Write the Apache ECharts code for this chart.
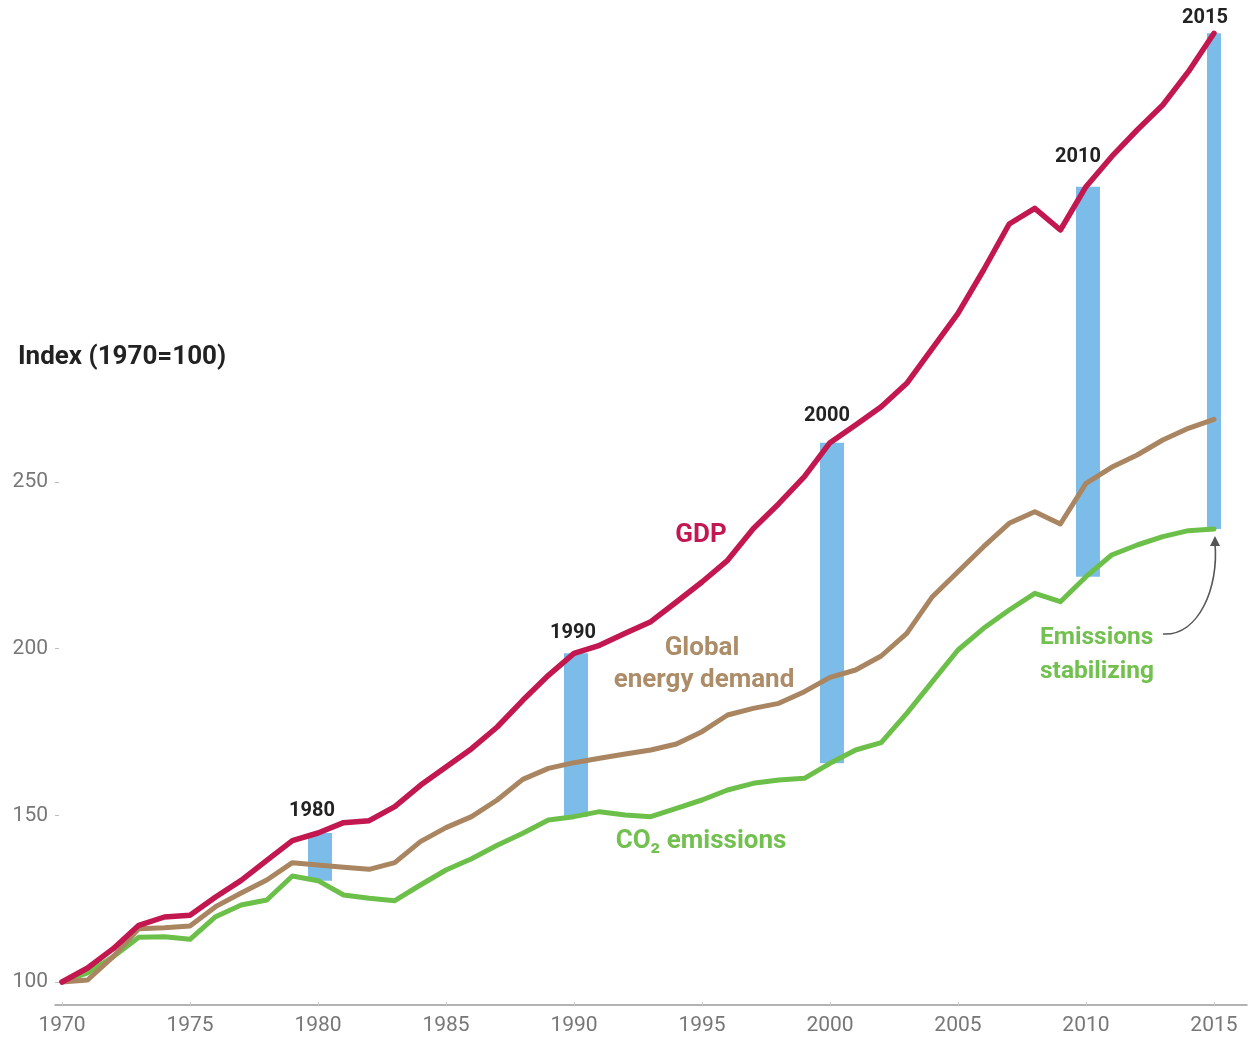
<!DOCTYPE html>
<html>
<head>
<meta charset="utf-8">
<script src="https://cdn.jsdelivr.net/npm/echarts@6/dist/echarts.min.js"></script>
<style>
  html, body { margin: 0; padding: 0; background: #ffffff; }
  #chart { width: 1248px; height: 1039px; }
</style>
</head>
<body>
<div id="chart"></div>
<script>
// Index values, 1970 = 100
const years = [
  1970, 1971, 1972, 1973, 1974, 1975, 1976, 1977, 1978, 1979,
  1980, 1981, 1982, 1983, 1984, 1985, 1986, 1987, 1988, 1989,
  1990, 1991, 1992, 1993, 1994, 1995, 1996, 1997, 1998, 1999,
  2000, 2001, 2002, 2003, 2004, 2005, 2006, 2007, 2008, 2009,
  2010, 2011, 2012, 2013, 2014, 2015
];
const gdp = [
  100, 104.2, 110, 117, 119.5, 120, 125.5, 130.5, 136.5, 142.4,
  144.7, 147.8, 148.4, 152.6, 159, 164.5, 170, 176.5, 184.5, 192,
  198.6, 201, 204.6, 208.1, 214, 220, 226.5, 236, 243.5, 251.6,
  261.8, 267.1, 272.6, 279.6, 290.1, 300.6, 313.6, 327.4, 332.1, 325.6,
  338.6, 347.6, 355.6, 363.1, 373.1, 384.6
];
const energyDemand = [
  100, 100.6, 107.6, 116, 116.3, 116.8, 122.6, 126.7, 130.6, 135.8,
  135.1, 134.4, 133.8, 135.8, 142.1, 146.3, 149.6, 154.6, 160.8, 164.1,
  165.8, 167.1, 168.4, 169.6, 171.4, 175.1, 180.1, 182.1, 183.6, 187.1,
  191.4, 193.6, 197.8, 204.6, 215.6, 223.1, 230.6, 237.6, 241.1, 237.4,
  249.6, 254.4, 258.1, 262.6, 266.1, 268.8
];
const co2 = [
  100, 102.7, 107.6, 113.4, 113.6, 112.8, 119.6, 123.1, 124.6, 131.8,
  130.4, 126.1, 125.1, 124.4, 129.1, 133.6, 137, 141, 144.6, 148.6,
  149.6, 151.1, 150.1, 149.6, 152.1, 154.6, 157.6, 159.6, 160.6, 161.1,
  165.6, 169.6, 171.8, 180.6, 190.1, 199.6, 206.1, 211.6, 216.6, 214.1,
  221.6, 228.1, 231.1, 233.6, 235.4, 235.9
];
// Years where the gap between GDP and emissions is marked
const gapYears = [1980, 1990, 2000, 2010, 2015];
// Axis tick labels
const xTicks = [1970, 1975, 1980, 1985, 1990, 1995, 2000, 2005, 2010, 2015];
const yTicks = [100, 150, 200, 250];

const COLORS = {
  gdp: '#c2174f',
  energy: '#a98661',
  co2: '#6cc04a',
  gap: '#7bbde8'
};
const FONT = 'Roboto, "Noto Sans", sans-serif';

// Pixel nudges for the year captions so they sit clear of the GDP line
const CAPTION_OFFSET = {
  1980: [-6, -22],
  1990: [-1, -20],
  2000: [-3, -27],
  2010: [-8, -30],
  2015: [-9, -15]
};

const pair = (arr) => years.map((y, i) => [y, arr[i]]);
const gapData = gapYears.map((y) => {
  const i = years.indexOf(y);
  return [y, gdp[i], co2[i]];
});
const lastYear = years[years.length - 1];

const chart = echarts.init(document.getElementById('chart'), null, { renderer: 'canvas' });

const lineSeries = (name, data, color, width) => ({
  name,
  type: 'line',
  data: pair(data),
  showSymbol: false,
  symbol: 'none',
  smooth: false,
  z: 3,
  lineStyle: { color, width, join: 'round', cap: 'round' },
  emphasis: { disabled: true }
});

chart.setOption({
  animation: false,
  backgroundColor: '#ffffff',
  grid: { left: 55, right: 1, top: 20, bottom: 34, containLabel: false },
  xAxis: {
    type: 'value',
    min: 1969.727,
    max: 2016.29,
    axisLine: { show: true, lineStyle: { color: '#9a9a9a', width: 1.5 } },
    axisTick: { show: true, inside: true, length: 3, lineStyle: { color: '#d0d0d0' }, customValues: xTicks },
    axisLabel: {
      customValues: xTicks,
      color: '#777777',
      fontSize: 21,
      fontFamily: FONT,
      margin: 10,
      formatter: (v) => String(v)
    },
    splitLine: { show: false }
  },
  yAxis: {
    type: 'value',
    min: 93.1,
    max: 388.6,
    axisLine: { show: false },
    axisTick: { show: true, inside: true, length: 4, lineStyle: { color: '#bdbdbd', width: 1 }, customValues: yTicks },
    axisLabel: {
      customValues: yTicks,
      color: '#777777',
      fontSize: 21,
      fontFamily: FONT,
      margin: 7
    },
    splitLine: { show: false }
  },
  series: [
    {
      name: 'gap',
      type: 'custom',
      z: 1,
      data: gapData,
      renderItem: (params, api) => {
        const year = api.value(0);
        const top = api.coord([year, api.value(1)]);
        const bottom = api.coord([year, api.value(2)]);
        const isLast = year === lastYear;
        const left = isLast ? top[0] - 7 : top[0] - 10;
        const right = isLast ? top[0] + 7 : top[0] + 14;
        const off = CAPTION_OFFSET[year] || [-5, -21];
        return {
          type: 'group',
          children: [
            {
              type: 'rect',
              shape: { x: left, y: top[1], width: right - left, height: bottom[1] - top[1] },
              style: { fill: COLORS.gap }
            },
            {
              type: 'text',
              x: top[0] + off[0],
              y: top[1] + off[1],
              style: {
                text: String(year),
                fill: '#222222',
                font: 'bold 20px ' + FONT,
                textAlign: 'center',
                textVerticalAlign: 'middle'
              }
            }
          ]
        };
      }
    },
    lineSeries('CO₂ emissions', co2, COLORS.co2, 5),
    lineSeries('Global energy demand', energyDemand, COLORS.energy, 5),
    lineSeries('GDP', gdp, COLORS.gdp, 5.5)
  ]
});

// Annotations and the curved pointer to the flattening emissions line
const tip = chart.convertToPixel({ gridIndex: 0 }, [lastYear, co2[co2.length - 1]]);
const tipX = tip[0] + 1;
const tipY = tip[1] + 8;
const startX = 1163, startY = 634;

const label = (text, x, y, color, align, size) => ({
  type: 'text',
  x, y,
  z: 10,
  style: {
    text,
    fill: color,
    font: 'bold ' + (size || 26) + 'px ' + FONT,
    textAlign: align || 'center',
    textVerticalAlign: 'middle'
  }
});

chart.setOption({
  graphic: [
    label('Index (1970=100)', 18, 357, '#222222', 'left'),
    label('GDP', 701, 535, COLORS.gdp),
    label('Global', 702, 648, '#ad8c68'),
    label('energy demand', 704, 680, '#ad8c68'),
    label('CO₂ emissions', 701, 841, '#72c04f'),
    label('Emissions', 1040, 638, '#72c04f', 'left', 24.5),
    label('stabilizing', 1040, 672, '#72c04f', 'left', 24.5),
    {
      type: 'bezierCurve',
      z: 10,
      shape: {
        x1: startX, y1: startY,
        cpx1: startX + 36, cpy1: startY + 2,
        cpx2: tipX + 4, cpy2: tipY + 50,
        x2: tipX, y2: tipY + 6
      },
      style: { stroke: '#555555', lineWidth: 1.6, fill: null }
    },
    {
      type: 'polygon',
      z: 10,
      shape: { points: [[tipX, tipY - 1], [tipX - 5, tipY + 9], [tipX + 5, tipY + 9]] },
      style: { fill: '#555555' }
    }
  ]
});
</script>
</body>
</html>
